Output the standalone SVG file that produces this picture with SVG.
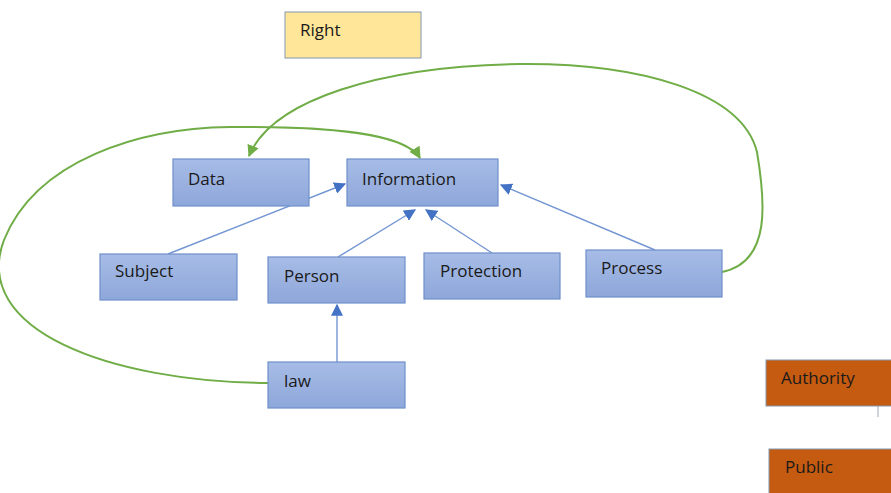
<svg xmlns="http://www.w3.org/2000/svg" width="891" height="493" viewBox="0 0 891 493">
<defs>
<linearGradient id="bg" x1="0" y1="0" x2="0" y2="1">
<stop offset="0" stop-color="#A7BCE6"/>
<stop offset="1" stop-color="#8EA7DA"/>
</linearGradient>
<marker id="ab" viewBox="0 0 10 10" refX="9" refY="5" markerWidth="12" markerHeight="12" markerUnits="userSpaceOnUse" orient="auto">
<path d="M0,0 L10,5 L0,10 z" fill="#4472C4"/>
</marker>
<marker id="ag" viewBox="0 0 10 10" refX="9" refY="5" markerWidth="12" markerHeight="12" markerUnits="userSpaceOnUse" orient="auto">
<path d="M0,0 L10,5 L0,10 z" fill="#70AD47"/>
</marker>
<style>
.n{fill:url(#bg);stroke:#6F8FCB;stroke-width:1.2}
.y{fill:#FFE699;stroke:#8497B0;stroke-width:1}
.o{fill:#C55A11;stroke:#8497B0;stroke-width:1}
.t{font-family:"Open Sans","Liberation Sans",sans-serif;font-size:17px;fill:#1a1a1a}
.b{fill:none;stroke:#7396D2;stroke-width:1.4;marker-end:url(#ab)}
.g{fill:none;stroke:#70AD47;stroke-width:2;marker-end:url(#ag)}
</style>
</defs>
<rect width="891" height="493" fill="#fff"/>
<g id="connectors">
<path class="b" d="M168,254 L345,184"/>
<path class="b" d="M338,257 L415,210"/>
<path class="b" d="M492,253 L426,210"/>
<path class="b" d="M655,250 L501,185"/>
<path class="b" d="M337,362 L337,305"/>
<path class="g" d="M268,383 C 110,382 -30,330 4,240 C 36,160 140,128 230,127 C 330,126 405,133 420,158"/>
<path class="g" d="M722,272 C 772,262 765,200 757,152 C 742,92 640,63 520,64 C 380,66 272,100 249,156"/>
<line x1="878" y1="406" x2="878" y2="417" stroke="#A0A8B8" stroke-width="1"/>
</g>
<g id="right"><rect class="y" x="285" y="12" width="136" height="46"/><text class="t" x="300" y="36">Right</text></g>
<g id="data"><rect class="n" x="173" y="159" width="136" height="47"/><text class="t" x="188" y="185">Data</text></g>
<g id="information"><rect class="n" x="347" y="159" width="151" height="47"/><text class="t" x="362" y="185">Information</text></g>
<g id="subject"><rect class="n" x="100" y="254" width="137" height="46"/><text class="t" x="115" y="277">Subject</text></g>
<g id="person"><rect class="n" x="268" y="257" width="137" height="46"/><text class="t" x="284" y="282">Person</text></g>
<g id="protection"><rect class="n" x="424" y="253" width="136" height="46"/><text class="t" x="440" y="277">Protection</text></g>
<g id="process"><rect class="n" x="586" y="250" width="136" height="47"/><text class="t" x="601" y="274">Process</text></g>
<g id="law"><rect class="n" x="268" y="362" width="137" height="46"/><text class="t" x="284" y="387">law</text></g>
<g id="authority"><rect class="o" x="766" y="360" width="130" height="46"/><text class="t" x="781" y="384">Authority</text></g>
<g id="public"><rect class="o" x="769" y="449" width="130" height="50"/><text class="t" x="785" y="473">Public</text></g>
</svg>
